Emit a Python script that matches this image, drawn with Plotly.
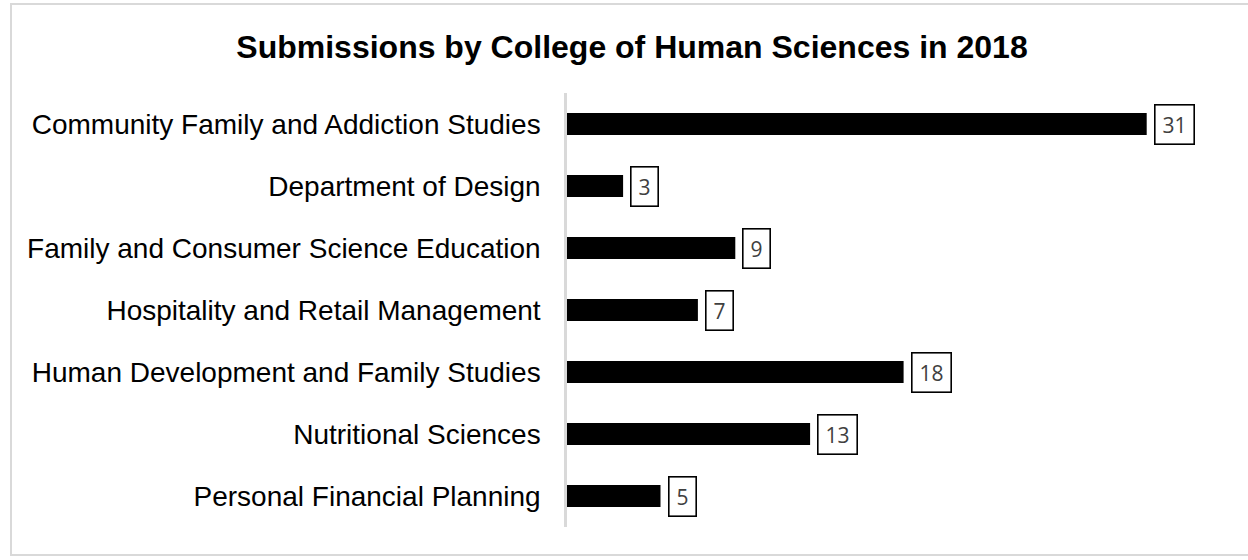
import plotly.graph_objects as go

departments = [
    "Community Family and Addiction Studies",
    "Department of Design",
    "Family and Consumer Science Education",
    "Hospitality and Retail Management",
    "Human Development and Family Studies",
    "Nutritional Sciences",
    "Personal Financial Planning",
]
submissions = [31, 3, 9, 7, 18, 13, 5]

TITLE = "Submissions by College of Human Sciences in 2018"

# plot area in pixels: x 567..1184, y 93..527
L, R, T, B = 567, 1184, 93, 527
W, H = 1248, 560
pw, ph = R - L, B - T

fig = go.Figure(go.Bar(
    y=departments, x=submissions, orientation="h",
    marker=dict(color="#000000", line=dict(width=0)),
    width=0.355,
    hoverinfo="skip",
))

for d, v in zip(departments, submissions):
    txt = str(v)
    fig.add_annotation(
        x=v, y=d, xref="x", yref="y", text=txt, showarrow=False,
        xanchor="left", xshift=7, width=12 * len(txt) + 4,
        font=dict(family="Open Sans, DejaVu Sans, sans-serif", size=21, color="#404040"),
        bordercolor="#000000", borderwidth=1.6, borderpad=5, bgcolor="#ffffff",
    )

# outer chart border
fig.add_shape(
    type="rect", xref="paper", yref="paper",
    x0=(11 - L) / pw, x1=(W + 5 - L) / pw,
    y0=(B - 555) / ph, y1=(B - 4) / ph,
    line=dict(color="#d9d9d9", width=2), fillcolor="rgba(0,0,0,0)", layer="below",
)

fig.update_layout(
    width=W, height=H,
    margin=dict(l=L, r=W - R, t=T, b=H - B, pad=0),
    paper_bgcolor="#ffffff", plot_bgcolor="#ffffff",
    font=dict(family="Liberation Sans, Arial, sans-serif", color="#000000"),
    title=dict(text="<b>" + TITLE + "</b>", x=632 / W, xanchor="center",
               y=1 - 47 / H, yanchor="middle",
               font=dict(size=32, color="#000000")),
    showlegend=False,
    xaxis=dict(range=[0, pw / 18.7], visible=False, fixedrange=True),
    yaxis=dict(
        autorange="reversed", showgrid=False, zeroline=False,
        showline=True, linecolor="#d9d9d9", linewidth=2.5,
        ticks="", ticklabelstandoff=18,
        tickfont=dict(size=28, color="#000000"),
        fixedrange=True,
    ),
)

fig.write_html("out.html", config={"displayModeBar": False},
               post_script="document.body.style.margin='0';")
